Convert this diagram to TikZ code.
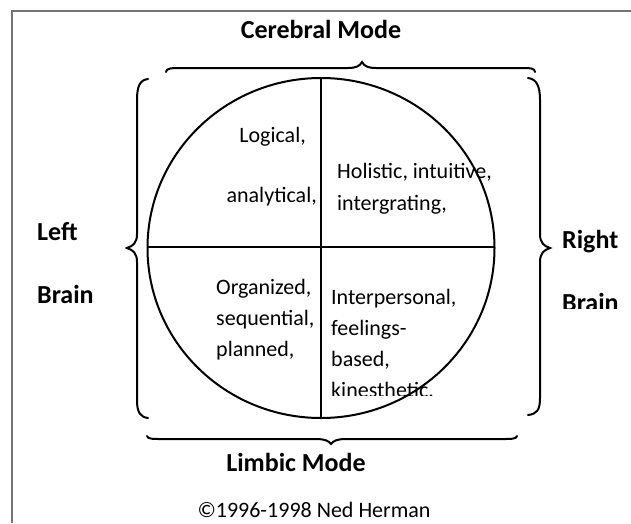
\documentclass[tikz,border=0pt]{standalone}
\usepackage{fontspec}
\setmainfont{Carlito}
\begin{document}
\begin{tikzpicture}[x=1pt,y=-1pt,
  line/.style={line width=2pt,black},
  bracket/.style={line width=2pt,black,line cap=round},
  frame/.style={line width=1.5pt,black!55},
  quad/.style={inner sep=0pt,font=\fontsize{22}{26}\selectfont},
  head/.style={inner sep=0pt,font=\fontsize{26}{30}\selectfont\bfseries}]
\useasboundingbox (0,0) rectangle (631,523);
% page frame
\draw[frame] (12,523) -- (12,11) -- (631,11);

% titles
\node[head,anchor=base] (cerebral) at (321,38) {Cerebral Mode};
\node[head,anchor=base] (limbic) at (296,471) {Limbic Mode};
\node[quad,anchor=base] (copy) at (314,517) {©1996-1998 Ned Herman};
\node[head,anchor=base west] (left) at (37,240) {Left};
\node[head,anchor=base west] (leftb) at (37,303) {Brain};
\node[head,anchor=base west] (right) at (562,248) {Right};
\begin{scope}
  \clip (540,250) rectangle (631,308);
  \node[head,anchor=base west] (rightb) at (562,311) {Brain};
\end{scope}

% quadrant texts
\node[quad,anchor=base east] (q1a) at (306,142) {Logical,};
\node[quad,anchor=base east] (q1b) at (317,202) {analytical,};
\node[quad,anchor=base west] (q2a) at (337,178) {Holistic, intuitive,};
\node[quad,anchor=base west] (q2b) at (337,210) {intergrating,};
\node[quad,anchor=base west] (q3a) at (216,294) {Organized,};
\node[quad,anchor=base west] (q3b) at (216,325) {sequential,};
\node[quad,anchor=base west] (q3c) at (216,356) {planned,};
\begin{scope}
  \clip (323,250) rectangle (500,395);
  \node[quad,anchor=base west] (q4a) at (331,304) {Interpersonal,};
  \node[quad,anchor=base west] (q4b) at (331,335) {feelings-};
  \node[quad,anchor=base west] (q4c) at (331,366) {based,};
  \node[quad,anchor=base west] (q4d) at (331,397) {kinesthetic,};
\end{scope}

% circle and its quadrants
\draw[line] (321,248) ellipse [x radius=173.5, y radius=170];
\draw[line] (321,78) -- (321,418);
\draw[line] (147.5,247) -- (494.5,247);

% braces
\draw[bracket] (166,72) .. controls (166,68) and (172,68) .. (182,68)
  -- (348,68) .. controls (356,68) and (360,66) .. (362,62)
  .. controls (364,66) and (368,68) .. (376,68)
  -- (520,68) .. controls (530,68) and (535,68) .. (535,72);
\draw[bracket] (147,436) .. controls (148,439) and (152,439) .. (162,439)
  -- (316,439) .. controls (325,439) and (329,441) .. (331,444)
  .. controls (333,441) and (337,439) .. (346,439)
  -- (502,439) .. controls (512,439) and (516,439) .. (517,436);
\draw[bracket] (148,79) .. controls (140,80) and (137,86) .. (137,100)
  -- (137,234) .. controls (137,243) and (133,246) .. (127,248)
  .. controls (133,250) and (137,253) .. (137,262)
  -- (137,400) .. controls (137,412) and (140,417) .. (148,418);
\draw[bracket] (528,78) .. controls (536,79) and (540,85) .. (540,100)
  -- (540,234) .. controls (540,243) and (544,246) .. (550,248)
  .. controls (544,250) and (540,253) .. (540,262)
  -- (540,398) .. controls (540,410) and (537,414) .. (528,415);
\end{tikzpicture}
\end{document}
